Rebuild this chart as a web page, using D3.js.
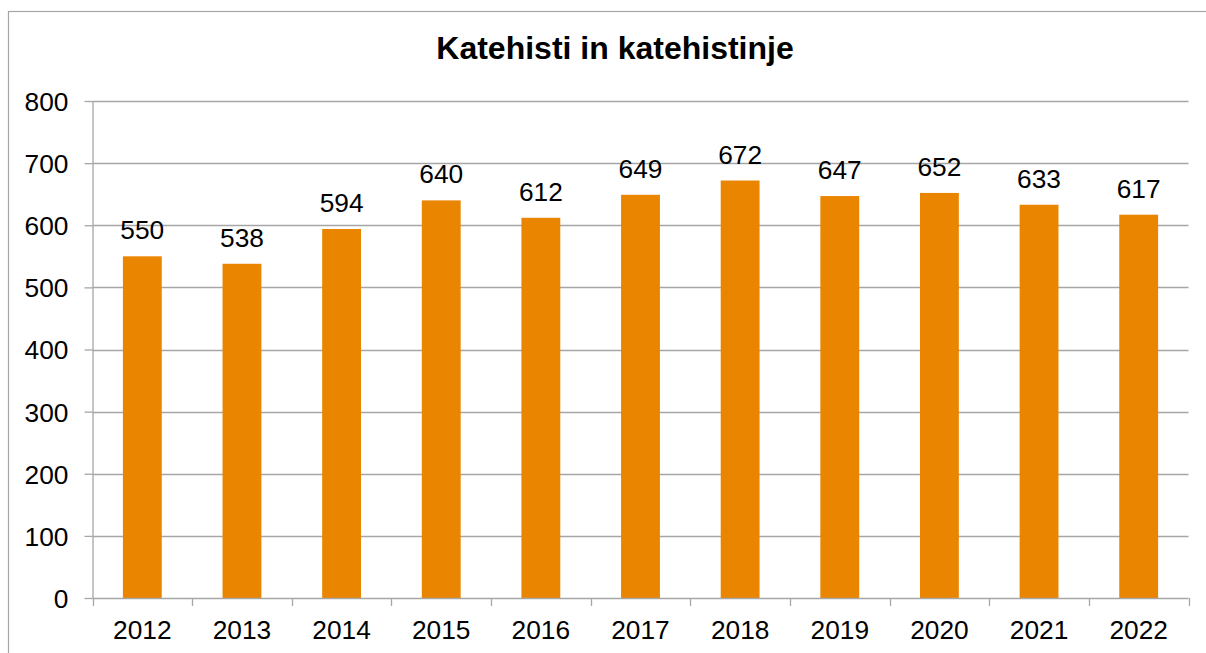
<!DOCTYPE html>
<html>
<head>
<meta charset="utf-8">
<script src="https://cdn.jsdelivr.net/npm/d3@7"></script>
<style>
  html, body { margin: 0; padding: 0; background: #fff; }
  svg { display: block; font-family: Arial, "Liberation Sans", sans-serif; }
</style>
</head>
<body>
<svg id="chart" width="1206" height="653"></svg>
<script>
const years = ["2012","2013","2014","2015","2016","2017","2018","2019","2020","2021","2022"];
const values = [550, 538, 594, 640, 612, 649, 672, 647, 652, 633, 617];
const yTicks = [0, 100, 200, 300, 400, 500, 600, 700, 800];
const title = "Katehisti in katehistinje";

const svg = d3.select("#chart");
const W = 1206, H = 653;
const plotL = 92.5, plotR = 1188.5, plotT = 101, plotB = 598;
const gridColor = "#A6A6A6";
const barColor = "#EA8500";
const fs = "26.3px";

// outer chart border
svg.append("rect")
  .attr("x", 8.5).attr("y", 11.5)
  .attr("width", W + 10).attr("height", H + 10)
  .attr("fill", "none").attr("stroke", "#A6A6A6").attr("stroke-width", 1.2);

const x = d3.scaleBand().domain(years).range([plotL, plotR]).paddingInner(0.61).paddingOuter(0.305);
const xb = d3.scaleBand().domain(years).range([plotL, plotR]).padding(0);
const y = d3.scaleLinear().domain([0, 800]).range([plotB, plotT]);

// gridlines
svg.append("g").selectAll("line").data(yTicks.filter(d => d > 0)).join("line")
  .attr("x1", plotL).attr("x2", plotR)
  .attr("y1", d => Math.round(y(d)) + 0.5).attr("y2", d => Math.round(y(d)) + 0.5)
  .attr("stroke", gridColor).attr("stroke-width", 1.3);

// bars
svg.append("g").selectAll("rect").data(values).join("rect")
  .attr("x", (d, i) => x(years[i]))
  .attr("width", x.bandwidth())
  .attr("y", d => y(d))
  .attr("height", d => y(0) - y(d))
  .attr("fill", barColor);

// value labels
svg.append("g").selectAll("text").data(values).join("text")
  .attr("x", (d, i) => x(years[i]) + x.bandwidth() / 2)
  .attr("y", d => y(d) - 17)
  .attr("text-anchor", "middle")
  .attr("font-size", fs)
  .attr("fill", "#000")
  .text(d => d);

// y axis
const yAxis = d3.axisLeft(y).tickValues(yTicks).tickSize(8).tickPadding(16).tickSizeOuter(0);
const gy = svg.append("g").attr("transform", `translate(${plotL},0)`).call(yAxis);
gy.select(".domain").attr("stroke", gridColor).attr("stroke-width", 1.3);
gy.selectAll(".tick line").attr("stroke", gridColor).attr("stroke-width", 1.3);
gy.selectAll(".tick text").attr("font-size", fs).attr("fill", "#000")
  .attr("font-family", "Arial, 'Liberation Sans', sans-serif").attr("dy", "0.36em");

// x axis with ticks at category boundaries
const gx = svg.append("g").attr("transform", `translate(0,${plotB})`);
gx.append("line").attr("x1", plotL).attr("x2", plotR).attr("y1", 0.5).attr("y2", 0.5)
  .attr("stroke", gridColor).attr("stroke-width", 1.3);
const bounds = years.map(d => xb(d)).concat([plotR]);
gx.selectAll("line.b").data(bounds).join("line").attr("class", "b")
  .attr("x1", d => Math.round(d) + 0.5).attr("x2", d => Math.round(d) + 0.5)
  .attr("y1", 0).attr("y2", 8)
  .attr("stroke", gridColor).attr("stroke-width", 1.3);
gx.selectAll("text").data(years).join("text")
  .attr("x", d => xb(d) + xb.bandwidth() / 2)
  .attr("y", 41)
  .attr("text-anchor", "middle")
  .attr("font-size", fs)
  .attr("fill", "#000")
  .text(d => d);

// title
svg.append("text")
  .attr("x", 615).attr("y", 58.5)
  .attr("text-anchor", "middle")
  .attr("font-size", "32px")
  .attr("font-weight", "bold")
  .attr("fill", "#000")
  .text(title);
</script>
</body>
</html>
